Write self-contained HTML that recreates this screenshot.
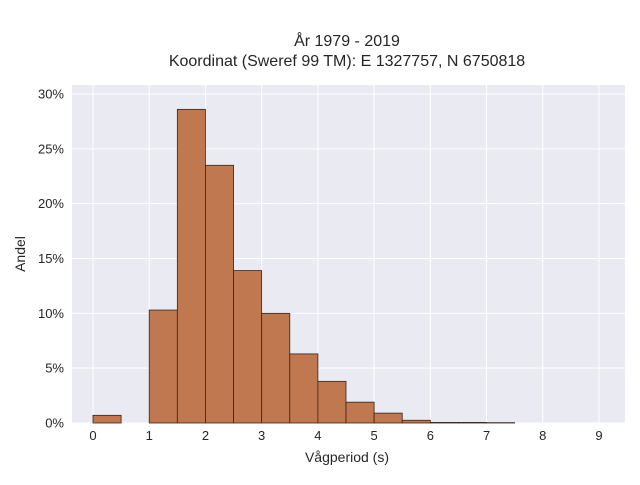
<!DOCTYPE html>
<html><head><meta charset="utf-8"><style>
body{margin:0;background:#fff;font-family:"Liberation Sans",sans-serif;}
svg text{font-family:"Liberation Sans",sans-serif;fill:#262626;}
</style></head><body>
<svg width="640" height="480">
<text x="347" y="46" text-anchor="middle" font-size="16">År 1979 - 2019</text>
<text x="347" y="66" text-anchor="middle" font-size="16">Koordinat (Sweref 99 TM): E 1327757, N 6750818</text>
<rect x="72" y="85" width="553" height="338" fill="#eaeaf2"/>
<g id="grid"></g><g id="bars"></g><g id="ticks"></g>
<text x="347" y="462" text-anchor="middle" font-size="14">Vågperiod (s)</text>
<text transform="translate(25,254) rotate(-90)" text-anchor="middle" font-size="14">Andel</text>
</svg>
<script>
const binStarts=[0,0.5,1,1.5,2,2.5,3,3.5,4,4.5,5,5.5,6,6.5,7];
const shares=[0.7,0,10.3,28.6,23.5,13.9,10.0,6.3,3.8,1.9,0.9,0.25,0.05,0.05,0.03];
const xTicks=[0,1,2,3,4,5,6,7,8,9];
const yTicks=[0,5,10,15,20,25,30];
const NS="http://www.w3.org/2000/svg";
const xs=v=>93+v*(599-93)/9, ys=v=>423-v*(423-94)/30;
function mk(t,a,p){const e=document.createElementNS(NS,t);for(const k in a)e.setAttribute(k,a[k]);p.appendChild(e);return e;}
const g=document.getElementById('grid'),b=document.getElementById('bars'),tk=document.getElementById('ticks');
xTicks.forEach(v=>{const l=mk('line',{x1:xs(v),x2:xs(v),y1:85,y2:423,stroke:'#fff','stroke-width':1},g);

const t=mk('text',{x:xs(v),y:440,'text-anchor':'middle','font-size':13},tk);t.textContent=v;
});
yTicks.forEach(v=>{const l=mk('line',{x1:72,x2:625,y1:ys(v),y2:ys(v),stroke:'#fff','stroke-width':1},g);

const t=mk('text',{x:64,y:ys(v)+4.5,'text-anchor':'end','font-size':13},tk);t.textContent=v+'%';
});
binStarts.forEach((s,i)=>{if(shares[i]<=0)return;const y=ys(shares[i]);
const r=mk('rect',{x:xs(s),y:y,width:xs(s+0.5)-xs(s),height:423-y,fill:'#c07850',stroke:'#3a2418','stroke-width':0.8},b);
});
</script>
</body></html>
